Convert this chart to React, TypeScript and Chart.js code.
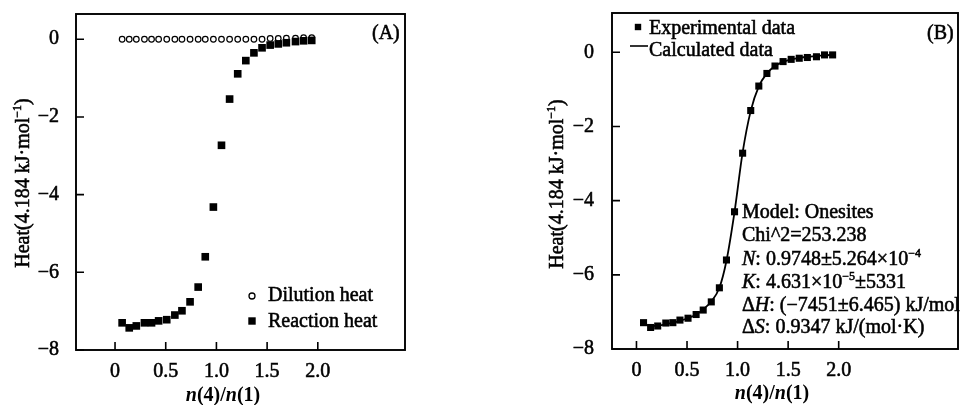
import React, { useEffect, useRef } from "react";
import { Chart, registerables } from "chart.js";

Chart.register(...registerables);

// ---------------- data ----------------
const molarRatio = [0.07, 0.14, 0.21, 0.29, 0.36, 0.43, 0.51, 0.59, 0.66, 0.74, 0.82, 0.89, 0.97, 1.05, 1.13, 1.21, 1.29, 1.37, 1.45, 1.53, 1.61, 1.69, 1.78, 1.86, 1.94];
const dilutionHeat = [0, 0, 0, 0, 0, 0, 0, 0, 0, 0, 0, 0, 0, 0, 0, 0, 0, 0, 0, 0.02, 0.02, 0.03, 0.03, 0.04, 0.04];
const reactionHeatA = [-7.3, -7.43, -7.38, -7.3, -7.3, -7.25, -7.22, -7.1, -6.99, -6.76, -6.38, -5.6, -4.32, -2.73, -1.54, -0.89, -0.55, -0.35, -0.22, -0.15, -0.12, -0.09, -0.06, -0.04, -0.03];
const experimentalHeatB = [-7.29, -7.42, -7.38, -7.3, -7.29, -7.22, -7.17, -7.07, -6.95, -6.73, -6.35, -5.6, -4.3, -2.72, -1.57, -0.91, -0.57, -0.37, -0.25, -0.19, -0.16, -0.14, -0.12, -0.07, -0.07];
const calculatedHeatB = [-7.33, -7.38, -7.37, -7.33, -7.29, -7.24, -7.17, -7.07, -6.93, -6.72, -6.35, -5.62, -4.3, -2.7, -1.58, -0.92, -0.57, -0.37, -0.26, -0.19, -0.15, -0.12, -0.1, -0.08, -0.07];

const xTickValues = [0, 0.5, 1, 1.5, 2];
const xTickLabels = ["0", "0.5", "1.0", "1.5", "2.0"];
const yTickValues = [0, -2, -4, -6, -8];
const yTickLabels = ["0", "\u22122", "\u22124", "\u22126", "\u22128"];

const legendA = ["Dilution heat", "Reaction heat"];
const legendB = ["Experimental data", "Calculated data"];

// ---------------- text helpers ----------------
const SERIF = "'Liberation Serif', 'Times New Roman', serif";
const FS = 20;
const TEXT_STROKE = 0.55;

type Seg = { t: string; i?: boolean; b?: boolean; sup?: boolean };

function segFont(s: Seg, size: number) {
  const sz = s.sup ? Math.round(size * 0.62) : size;
  return `${s.i ? "italic " : ""}${s.b ? "bold " : ""}${sz}px ${SERIF}`;
}
function measureRich(ctx: CanvasRenderingContext2D, segs: Seg[], size: number) {
  let w = 0;
  for (const s of segs) {
    ctx.font = segFont(s, size);
    w += ctx.measureText(s.t).width;
  }
  return w;
}
function drawRich(ctx: CanvasRenderingContext2D, segs: Seg[], x: number, y: number, size: number, align: "left" | "center") {
  ctx.save();
  ctx.fillStyle = "#000";
  ctx.strokeStyle = "#000";
  ctx.lineWidth = TEXT_STROKE;
  ctx.textBaseline = "alphabetic";
  ctx.textAlign = "left";
  const w = measureRich(ctx, segs, size);
  let cx = align === "center" ? x - w / 2 : x;
  for (const s of segs) {
    ctx.font = segFont(s, size);
    const yy = s.sup ? y - size * 0.42 : y;
    ctx.fillText(s.t, cx, yy);
    if (!s.b) ctx.strokeText(s.t, cx, yy);
    cx += ctx.measureText(s.t).width;
  }
  ctx.restore();
}

const yTitleSegs: Seg[] = [{ t: "Heat(4.184 kJ\u00b7mol" }, { t: "\u22121", sup: true }, { t: ")" }];
const xTitleSegs: Seg[] = [
  { t: "n", i: true, b: true },
  { t: "(4)", b: true },
  { t: "/", b: true },
  { t: "n", i: true, b: true },
  { t: "(1)", b: true },
];

const annotationB: Seg[][] = [
  [{ t: "Model: Onesites" }],
  [{ t: "Chi^2=253.238" }],
  [{ t: "N", i: true }, { t: ": 0.9748\u00b15.264\u00d710" }, { t: "\u22124", sup: true }],
  [{ t: "K", i: true }, { t: ": 4.631\u00d710" }, { t: "\u22125", sup: true }, { t: "\u00b15331" }],
  [{ t: "\u0394" }, { t: "H", i: true }, { t: ": (\u22127451\u00b16.465) kJ/mol" }],
  [{ t: "\u0394" }, { t: "S", i: true }, { t: ": 0.9347 kJ/(mol\u00b7K)" }],
];

// ---------------- panel config ----------------
type Panel = {
  id: "A" | "B";
  width: number;
  xMin: number;
  xMax: number;
  yMax: number;
  yWidth: number;
  xHeight: number;
  padTop: number;
  padRight: number;
  yTitleX: number;
  yTitleY: number;
  xTitleX: number;
  xTitleY: number;
  labelX: number;
  labelY: number;
};

const panelA: Panel = {
  id: "A", width: 440, xMin: -0.385, xMax: 2.86, yMax: 0.65,
  yWidth: 76, xHeight: 55, padTop: 14, padRight: 35,
  yTitleX: 29, yTitleY: 183, xTitleX: 223, xTitleY: 401, labelX: 372, labelY: 39,
};
const panelB: Panel = {
  id: "B", width: 483, xMin: -0.242, xMax: 3.18, yMax: 1.06,
  yWidth: 132, xHeight: 56, padTop: 13, padRight: 2,
  yTitleX: 83, yTitleY: 184, xTitleX: 292, xTitleY: 399, labelX: 447, labelY: 39,
};

function decorPlugin(p: Panel) {
  return {
    id: "decor" + p.id,
    afterDraw(chart: any) {
      const ctx: CanvasRenderingContext2D = chart.ctx;
      const { left, right, top, bottom } = chart.chartArea;
      const xs = chart.scales.x;
      const ys = chart.scales.y;
      ctx.save();
      // frame
      ctx.strokeStyle = "#000";
      ctx.lineWidth = 1.9;
      ctx.strokeRect(left, top, right - left, bottom - top);
      // inward ticks
      ctx.lineWidth = 1.6;
      ctx.beginPath();
      for (const v of xTickValues) {
        const px = xs.getPixelForValue(v);
        ctx.moveTo(px, bottom);
        ctx.lineTo(px, bottom - 8);
      }
      for (const v of yTickValues) {
        const py = ys.getPixelForValue(v);
        ctx.moveTo(left, py);
        ctx.lineTo(left + 8, py);
      }
      ctx.stroke();

      // y title (rotated)
      ctx.save();
      ctx.translate(p.yTitleX, p.yTitleY);
      ctx.rotate(-Math.PI / 2);
      drawRich(ctx, yTitleSegs, 0, 0, FS, "center");
      ctx.restore();

      // x title
      drawRich(ctx, xTitleSegs, p.xTitleX, p.xTitleY, FS, "center");

      // panel label
      drawRich(ctx, [{ t: `(${p.id})` }], p.labelX, p.labelY, FS, "left");

      ctx.fillStyle = "#000";
      if (p.id === "A") {
        // legend A
        ctx.beginPath();
        ctx.arc(252, 296, 3, 0, Math.PI * 2);
        ctx.fillStyle = "#fff";
        ctx.fill();
        ctx.lineWidth = 1.3;
        ctx.stroke();
        ctx.fillStyle = "#000";
        ctx.fillRect(252 - 3.7, 321 - 3.7, 7.4, 7.4);
        drawRich(ctx, [{ t: legendA[0] }], 268, 301, FS, "left");
        drawRich(ctx, [{ t: legendA[1] }], 268, 327, FS, "left");
      } else {
        ctx.fillRect(158 - 3.2, 27 - 3.2, 6.4, 6.4);
        drawRich(ctx, [{ t: legendB[0] }], 169, 34, FS, "left");
        ctx.lineWidth = 1.6;
        ctx.beginPath();
        ctx.moveTo(150, 46);
        ctx.lineTo(168, 46);
        ctx.stroke();
        drawRich(ctx, [{ t: legendB[1] }], 169, 56, FS, "left");
        const base = [218, 241, 265, 288, 311, 333];
        annotationB.forEach((segs, i) => drawRich(ctx, segs, 262, base[i], FS, "left"));
      }
      ctx.restore();
    },
  };
}

function makeOptions(p: Panel): any {
  const tickFont = { family: SERIF, size: FS };
  return {
    responsive: false,
    animation: false,
    events: [],
    layout: { padding: { left: 0, top: p.padTop, right: p.padRight, bottom: 0 } },
    plugins: { legend: { display: false }, tooltip: { enabled: false } },
    scales: {
      x: {
        type: "linear",
        min: p.xMin,
        max: p.xMax,
        grid: { display: false },
        border: { display: false },
        afterBuildTicks: (s: any) => {
          s.ticks = xTickValues.map((v) => ({ value: v }));
        },
        afterFit: (s: any) => {
          s.height = p.xHeight;
          s.paddingLeft = 0;
          s.paddingRight = 0;
        },
        ticks: {
          padding: 2,
          color: "#000",
          textStrokeColor: "#000",
          textStrokeWidth: TEXT_STROKE,
          font: tickFont,
          maxRotation: 0,
          autoSkip: false,
          callback: (v: number) => {
            const i = xTickValues.indexOf(v);
            return i >= 0 ? xTickLabels[i] : "";
          },
        },
      },
      y: {
        type: "linear",
        min: -8,
        max: p.yMax,
        grid: { display: false },
        border: { display: false },
        afterBuildTicks: (s: any) => {
          s.ticks = yTickValues.map((v) => ({ value: v }));
        },
        afterFit: (s: any) => {
          s.width = p.yWidth;
          s.paddingTop = 0;
          s.paddingBottom = 0;
        },
        ticks: {
          padding: p.id === "A" ? 9 : 10,
          color: "#000",
          textStrokeColor: "#000",
          textStrokeWidth: TEXT_STROKE,
          font: tickFont,
          autoSkip: false,
          callback: (v: number) => {
            const i = yTickValues.indexOf(v);
            return i >= 0 ? yTickLabels[i] : "";
          },
        },
      },
    },
  };
}

function PanelChart({ p, left }: { p: Panel; left: number }) {
  const ref = useRef<HTMLCanvasElement>(null);
  useEffect(() => {
    if (!ref.current) return;
    let datasets: any[];
    if (p.id === "A") {
      datasets = [
        {
          label: legendA[1],
          data: molarRatio.map((x, i) => ({ x, y: reactionHeatA[i] })),
          pointStyle: "rect",
          pointRadius: 5.4,
          backgroundColor: "#000",
          borderColor: "#000",
          borderWidth: 0,
          showLine: false,
        },
        {
          label: legendA[0],
          data: molarRatio.map((x, i) => ({ x, y: dilutionHeat[i] })),
          pointStyle: "circle",
          pointRadius: 2.8,
          backgroundColor: "#fff",
          borderColor: "#000",
          borderWidth: 1.2,
          showLine: false,
        },
      ];
    } else {
      datasets = [
        {
          label: legendB[0],
          data: molarRatio.map((x, i) => ({ x, y: experimentalHeatB[i] })),
          pointStyle: "rect",
          pointRadius: 5,
          backgroundColor: "#000",
          borderColor: "#000",
          borderWidth: 0,
          showLine: false,
        },
        {
          label: legendB[1],
          data: molarRatio.map((x, i) => ({ x, y: calculatedHeatB[i] })),
          pointRadius: 0,
          borderColor: "#000",
          borderWidth: 1.8,
          showLine: true,
          cubicInterpolationMode: "monotone",
        },
      ];
    }
    const chart = new Chart(ref.current, {
      type: "scatter",
      data: { datasets },
      options: makeOptions(p),
      plugins: [decorPlugin(p)],
    });
    return () => chart.destroy();
  }, [p]);
  return (
    <canvas
      ref={ref}
      width={p.width}
      height={405}
      style={{ position: "absolute", left, top: 0, width: p.width, height: 405, display: "block" }}
    />
  );
}

export default function App() {
  return (
    <div style={{ position: "fixed", left: 0, top: 0, width: 963, height: 405, background: "#fff", overflow: "hidden" }}>
      <PanelChart p={panelA} left={0} />
      <PanelChart p={panelB} left={480} />
    </div>
  );
}
